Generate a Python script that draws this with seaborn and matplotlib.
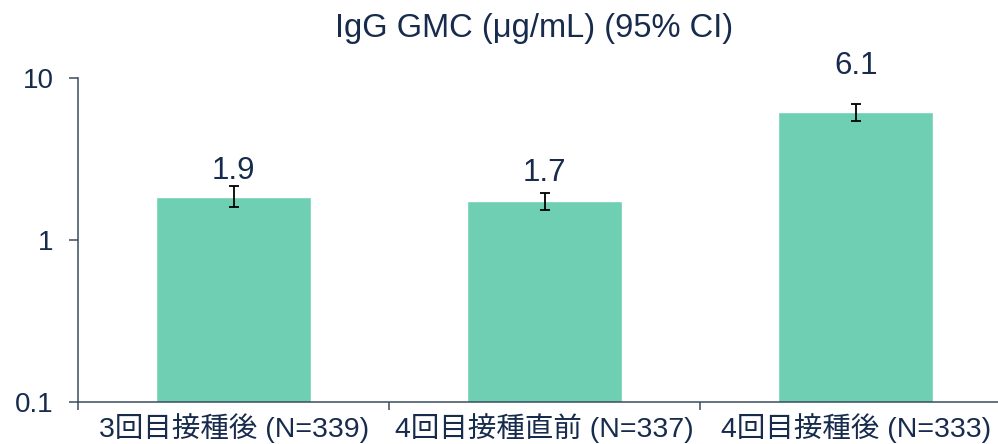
# Import libraries for data handling and plotting
import pandas as pd
import seaborn as sns
import matplotlib.pyplot as plt
from matplotlib.ticker import FixedLocator, NullLocator

# Chart data
categories = ["3回目接種後 (N=339)", "4回目接種直前 (N=337)", "4回目接種後 (N=333)"]
gmc = [1.85, 1.73, 6.14]
ci_lower = [1.60, 1.54, 5.46]
ci_upper = [2.15, 1.95, 6.92]
value_labels = ["1.9", "1.7", "6.1"]
y_ticks = [0.1, 1, 10]
y_tick_labels = ["0.1", "1", "10"]

# Build a DataFrame for seaborn
data = pd.DataFrame({"Group": categories, "GMC": gmc})

# Theme first, then fonts (set_style resets font.family)
sns.set_style("white")
plt.rcParams["font.family"] = ["Liberation Sans", "Noto Sans CJK JP", "DejaVu Sans"]

text_color = "#172b4d"
axis_color = "#3b4b5e"
bar_color = "#6fcfb3"

# Figure and axes (axes runs slightly past the right edge like the original)
fig = plt.figure(figsize=(9.98, 4.44), dpi=100)
ax = fig.add_axes([0.0782, 0.0946, 0.935, 0.7297])

# Bars
sns.barplot(data=data, x="Group", y="GMC", color=bar_color, saturation=1,
            width=0.5, errorbar=None, ax=ax)

# Log scale on y
ax.set_yscale("log")
ax.set_ylim(0.1, 10)
ax.set_xlim(-0.5, 2.5)

# 95% CI error bars
yerr = [[g - lo for g, lo in zip(gmc, ci_lower)],
        [hi - g for g, hi in zip(gmc, ci_upper)]]
ax.errorbar(range(len(gmc)), gmc, yerr=yerr, fmt="none", ecolor="black",
            elinewidth=1.3, capsize=3.8, capthick=1.3)

# Value labels above the bars
label_offsets = [5, 8.6, 21.6]
for i, (hi, lab, off) in enumerate(zip(ci_upper, value_labels, label_offsets)):
    ax.annotate(lab, (i, hi), xytext=(0, off), textcoords="offset points",
                ha="center", va="baseline", fontsize=22.5, color=text_color)

# Y axis ticks
ax.yaxis.set_major_locator(FixedLocator(y_ticks))
ax.yaxis.set_minor_locator(NullLocator())
ax.set_yticklabels(y_tick_labels)
ax.tick_params(axis="y", which="major", direction="out", length=6.5, width=1.1,
               color=axis_color, pad=11, labelsize=20, labelcolor=text_color, left=True)

# X axis: labels at bar centres, tick marks at category boundaries
ax.xaxis.set_minor_locator(FixedLocator([-0.5, 0.5, 1.5, 2.5]))
ax.tick_params(axis="x", which="major", length=0, pad=8, labelsize=20.5, labelcolor=text_color)
ax.tick_params(axis="x", which="minor", direction="out", length=6, width=1.1,
               color=axis_color, bottom=True)
ax.set_xlabel("")
ax.set_ylabel("")

# Spines
for side in ["top", "right"]:
    ax.spines[side].set_visible(False)
for side in ["left", "bottom"]:
    ax.spines[side].set_color(axis_color)
    ax.spines[side].set_linewidth(1.1)

# Title
fig.text(534 / 998, 1 - 37 / 444, "IgG GMC (μg/mL) (95% CI)", ha="center", va="baseline",
         fontsize=23.5, color=text_color)

# Save figure
fig.savefig("out.png", dpi=100)
